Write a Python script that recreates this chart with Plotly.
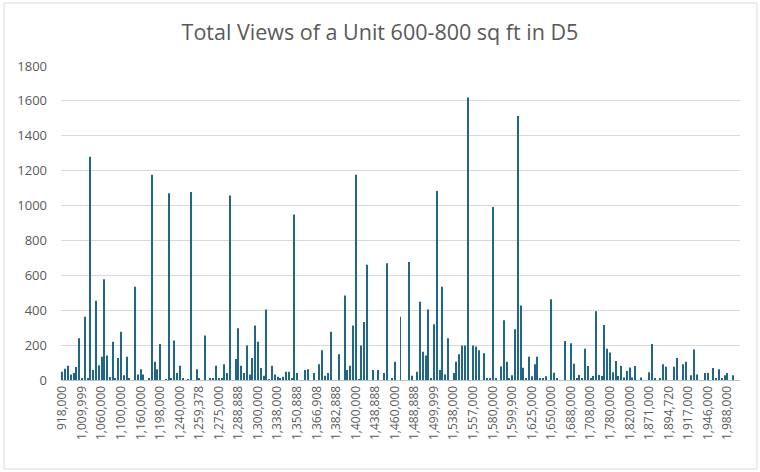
import plotly.graph_objects as go

# titulo e rotulos
titulo = "Total Views of a Unit 600-800 sq ft in D5"

# rotulos do eixo X (o Excel mostra um preco a cada 7 categorias)
precos_rotulo = [
    "918,000", "1,009,999", "1,060,000", "1,100,000", "1,160,000", "1,198,000",
    "1,240,000", "1,259,378", "1,275,000", "1,288,888", "1,300,000", "1,338,000",
    "1,350,888", "1,366,908", "1,382,888", "1,400,000", "1,438,888", "1,460,000",
    "1,488,888", "1,499,999", "1,538,000", "1,557,000", "1,580,000", "1,599,900",
    "1,625,000", "1,650,000", "1,688,000", "1,708,000", "1,780,000", "1,820,000",
    "1,871,000", "1,894,720", "1,917,000", "1,946,000", "1,988,000",
]
passo_rotulo = 7

# visualizacoes por unidade (em ordem de preco)
views = [
    48, 65, 82, 32, 40, 74, 240, 6, 362, 11,
    1280, 57, 455, 84, 133, 577, 141, 17, 219, 11,
    126, 276, 27, 133, 11, 0, 535, 32, 61, 32,
    0, 11, 1177, 105, 61, 206, 0, 4, 1070, 11,
    227, 40, 82, 8, 0, 4, 1078, 0, 61, 11,
    0, 255, 0, 8, 11, 82, 6, 6, 90, 40,
    1057, 0, 120, 297, 82, 40, 198, 32, 126, 312,
    219, 69, 25, 404, 4, 82, 32, 19, 8, 19,
    48, 48, 11, 949, 40, 0, 0, 57, 61, 0,
    40, 0, 90, 170, 25, 40, 276, 0, 0, 147,
    0, 484, 57, 82, 312, 1177, 4, 198, 333, 661,
    0, 57, 0, 57, 0, 40, 669, 0, 11, 105,
    0, 362, 0, 0, 676, 25, 0, 48, 448, 162,
    141, 404, 8, 320, 1084, 57, 535, 32, 240, 0,
    40, 105, 147, 198, 198, 1620, 0, 198, 192, 170,
    0, 154, 6, 6, 992, 6, 0, 78, 343, 105,
    6, 27, 291, 1514, 427, 70, 6, 133, 21, 90,
    133, 6, 6, 21, 0, 463, 42, 6, 0, 0,
    223, 0, 210, 93, 8, 29, 8, 179, 80, 8,
    23, 394, 29, 23, 316, 179, 158, 44, 109, 23,
    80, 15, 51, 72, 15, 80, 0, 15, 0, 0,
    44, 206, 8, 0, 11, 90, 76, 0, 0, 76,
    126, 0, 90, 105, 0, 27, 175, 32, 0, 0,
    40, 40, 0, 69, 6, 61, 11, 27, 40, 0,
    27, 0, 0,
]

posicoes = list(range(len(views)))
ticks_x = posicoes[::passo_rotulo][:len(precos_rotulo)]

cinza_texto = "#595959"
fonte = "Open Sans"

fig = go.Figure()
fig.add_trace(go.Bar(x=posicoes, y=views, marker=dict(color="#1f6688", line=dict(width=0))))

fig.update_layout(
    width=760, height=472,
    paper_bgcolor="white", plot_bgcolor="white",
    margin=dict(l=61, r=20, t=66, b=92),
    bargap=0.64,
    showlegend=False,
    font=dict(family=fonte, color=cinza_texto, size=11),
    title=dict(text=titulo, x=0.5, xanchor="center", y=0.932, yanchor="middle",
               font=dict(family=fonte, size=21.5, color=cinza_texto)),
)

fig.update_xaxes(
    range=[-0.5, len(views) - 0.5],
    tickmode="array", tickvals=ticks_x, ticktext=precos_rotulo,
    tickangle=-90, tickfont=dict(size=12, color=cinza_texto),
    showgrid=False, showline=True, linecolor="#bfbfbf", linewidth=1,
    ticks="", zeroline=False,
)
fig.update_yaxes(
    range=[0, 1800], dtick=200,
    showgrid=True, gridcolor="#d9d9d9", gridwidth=1,
    showline=False, zeroline=False, ticks="",
    tickfont=dict(size=13, color=cinza_texto),
    ticklabelstandoff=13,
)

# borda da area do grafico (como no Excel)
fig.add_shape(type="rect", xref="paper", yref="paper",
              x0=-57 / 679, x1=1 + 17 / 679, y0=-89 / 314, y1=1 + 63 / 314,
              line=dict(color="#d9d9d9", width=1), fillcolor="rgba(0,0,0,0)")

# sem margem do body, para a figura ocupar a janela toda
fig.write_html("out.html", config={"displayModeBar": False},
               post_script="document.body.style.margin='0';")
